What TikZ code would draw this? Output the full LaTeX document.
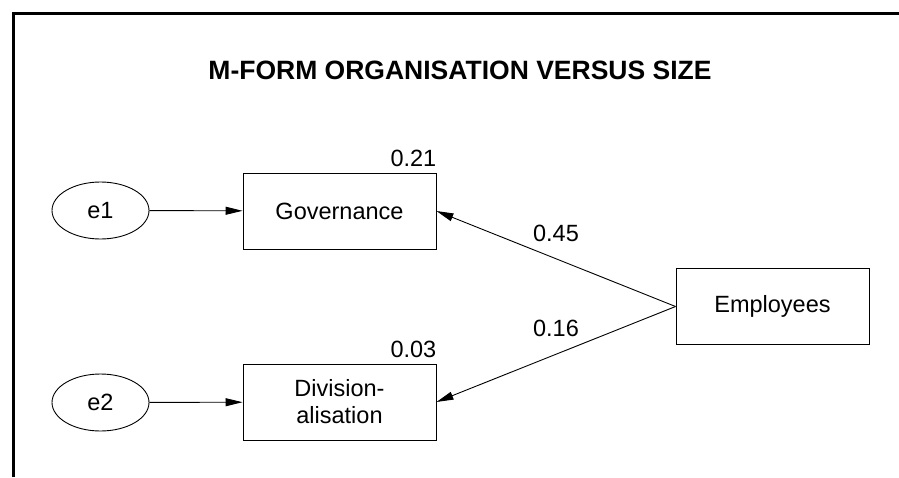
\documentclass[tikz,border=0pt]{standalone}
\usepackage{fontspec}
\setmainfont{Liberation Sans}
\usetikzlibrary{shapes.geometric,arrows.meta}
\begin{document}
\begin{tikzpicture}[x=1pt,y=-1pt,
  every node/.style={font=\fontsize{23.5}{27}\selectfont},
  obsbox/.style={draw, line width=0.9pt, inner sep=0pt, minimum width=193pt, minimum height=76pt, align=center},
  errell/.style={draw, ellipse, line width=0.9pt, inner sep=0pt, minimum width=97pt, minimum height=57pt},
  numlab/.style={inner sep=0pt},
  path/.style={line width=0.9pt, -{Triangle[length=17pt,width=8pt]}}
]
\useasboundingbox (0,0) rectangle (899,477);
\fill[white] (0,0) rectangle (899,477);
\draw[line width=3pt] (13.5,477) -- (13.5,13) -- (899,13);
\node[font=\fontsize{26.5}{30}\bfseries\selectfont] (title) at (460,70) {M-FORM ORGANISATION VERSUS SIZE};

\node[obsbox] (gov) at (339.5,211) {Governance};
\node[obsbox] (div) at (339.5,402) {Division-\\alisation};
\node[obsbox] (emp) at (772.5,306.5) {Employees};
\node[errell] (e1) at (100.5,210.5) {e1};
\node[errell] (e2) at (100.5,402.5) {e2};

\node[numlab, anchor=base east, yshift=6pt] (r1) at (gov.north east) {0.21};
\node[numlab, anchor=base east, yshift=6pt] (r2) at (div.north east) {0.03};

\draw[path] (e1) -- (gov);
\draw[path] (e2) -- (div);
\draw[path] (emp.west) -- (gov.east);
\draw[path] (emp.west) -- (div.east);

\node[numlab] (l1) at (556,233) {0.45};
\node[numlab] (l2) at (556,328) {0.16};
\end{tikzpicture}
\end{document}
